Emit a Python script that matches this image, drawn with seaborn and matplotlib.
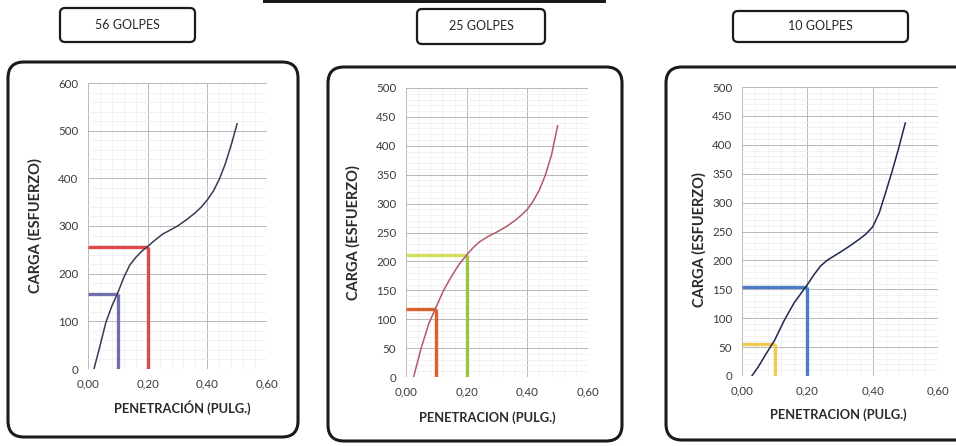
import numpy as np
import pandas as pd
import matplotlib
matplotlib.use('Agg')
import matplotlib.pyplot as plt
from matplotlib.patches import FancyBboxPatch, Rectangle
from matplotlib.ticker import MultipleLocator, FuncFormatter
import seaborn as sns

# Curve readings (penetration in inches, load)
pen_56 = [0.02, 0.04, 0.06, 0.08, 0.10, 0.12, 0.14, 0.16, 0.18, 0.20, 0.22, 0.25,
          0.28, 0.30, 0.33, 0.36, 0.38, 0.40, 0.42, 0.44, 0.46, 0.48, 0.50]
load_56 = [0, 48, 98, 132, 160, 192, 218, 234, 247, 257, 268, 283,
           293, 300, 313, 328, 340, 355, 373, 398, 430, 470, 515]

pen_25 = [0.025, 0.05, 0.075, 0.10, 0.125, 0.15, 0.175, 0.20, 0.22, 0.24, 0.27,
          0.30, 0.33, 0.36, 0.38, 0.40, 0.42, 0.44, 0.46, 0.48, 0.50]
load_25 = [0, 50, 92, 122, 151, 174, 195, 211, 223, 233, 243,
           251, 260, 271, 280, 290, 305, 324, 350, 385, 435]

pen_10 = [0.03, 0.05, 0.07, 0.10, 0.13, 0.16, 0.20, 0.22, 0.24, 0.26, 0.28,
          0.30, 0.33, 0.36, 0.38, 0.40, 0.42, 0.44, 0.46, 0.48, 0.50]
load_10 = [0, 16, 35, 62, 97, 127, 158, 175, 190, 200, 207,
           214, 225, 237, 246, 258, 282, 318, 355, 395, 438]

# Reading levels at 0.1" and 0.2"
guide_pen = [0.1, 0.2]
guide_56 = [157, 256]
guide_25 = [117, 211]
guide_10 = [56, 154]

titles = ['56 GOLPES', '25 GOLPES', '10 GOLPES']
xlabels = ['PENETRACIÓN (PULG.)', 'PENETRACION (PULG.)', 'PENETRACION (PULG.)']
ylabel = 'CARGA (ESFUERZO)'

sns.set_style('white')
plt.rcParams['font.family'] = ['Lato', 'DejaVu Sans']

W, H = 956, 446
fig = plt.figure(figsize=(W / 100, H / 100), dpi=100)
fig.patch.set_facecolor('white')

# overlay in pixel units for boxes and labels
bg = fig.add_axes([0, 0, 1, 1], zorder=0)
bg.set_xlim(0, W)
bg.set_ylim(H, 0)
bg.axis('off')

panels = [
    dict(x=pen_56, y=load_56, g=guide_56, ymax=600, ystep=100, yminor=20,
         ax=(88, 83, 267, 369), curve='#3a3a55',
         gcol=[('#7070b0', '#7070b0'), ('#dc4a4c', '#dc4a4c')],
         outer=(8, 62, 298, 437), lab=(60, 8, 195, 42),
         ylab=(35, 226), xlab=(182, 408)),
    dict(x=pen_25, y=load_25, g=guide_25, ymax=500, ystep=50, yminor=10,
         ax=(406, 88, 588, 377), curve='#b25866',
         gcol=[('#d8642c', '#d8642c'), ('#d4de5c', '#9fc245')],
         outer=(328, 67, 622, 441), lab=(417, 9, 545, 44),
         ylab=(353, 233), xlab=(487, 418)),
    dict(x=pen_10, y=load_10, g=guide_10, ymax=500, ystep=50, yminor=10,
         ax=(742, 87, 938, 376), curve='#1e2850',
         gcol=[('#f2c94e', '#f2c94e'), ('#4a7cc8', '#4a7cc8')],
         outer=(666, 67, 985, 440), lab=(733, 11, 908, 42),
         ylab=(699, 240), xlab=(838, 415)),
]

# dark bar of the cut-off title at the top
bg.add_patch(Rectangle((263, -2), 343, 5, facecolor='#1a1a1a', edgecolor='none'))

for i, p in enumerate(panels):
    x0, y0, x1, y1 = p['outer']
    bg.add_patch(FancyBboxPatch((x0, y0), x1 - x0, y1 - y0,
                                boxstyle='round,pad=0,rounding_size=16',
                                facecolor='white', edgecolor='#1a1a1a', lw=2.2))
    lx0, ly0, lx1, ly1 = p['lab']
    bg.add_patch(FancyBboxPatch((lx0, ly0), lx1 - lx0, ly1 - ly0,
                                boxstyle='round,pad=0,rounding_size=5',
                                facecolor='white', edgecolor='#1a1a1a', lw=1.6))
    bg.text((lx0 + lx1) / 2, (ly0 + ly1) / 2, titles[i], ha='center', va='center',
            fontsize=9, color='#262626')
    bg.text(p['ylab'][0], p['ylab'][1], ylabel, rotation=90, ha='center', va='center',
            fontsize=10.5, fontweight='bold', color='#2a2a2a')
    bg.text(p['xlab'][0], p['xlab'][1], xlabels[i], ha='center', va='center',
            fontsize=9.3, fontweight='bold', color='#2a2a2a')

    ax_l, ax_t, ax_r, ax_b = p['ax']
    ax = fig.add_axes([ax_l / W, 1 - ax_b / H, (ax_r - ax_l) / W, (ax_b - ax_t) / H], zorder=2)
    ax.set_facecolor('white')

    df = pd.DataFrame({'pen': p['x'], 'load': p['y']})
    sns.lineplot(data=df, x='pen', y='load', ax=ax, color=p['curve'], lw=1.1, zorder=4)

    for (gx, gy), (hc, vc) in zip(zip(guide_pen, p['g']), p['gcol']):
        ax.plot([0, gx], [gy, gy], color=hc, lw=2.4, solid_capstyle='butt', zorder=3)
        ax.plot([gx, gx], [0, gy], color=vc, lw=2.4, solid_capstyle='butt', zorder=3)

    ax.set_xlim(0, 0.6)
    ax.set_ylim(0, p['ymax'])
    ax.xaxis.set_major_locator(MultipleLocator(0.2))
    ax.xaxis.set_minor_locator(MultipleLocator(0.04))
    ax.yaxis.set_major_locator(MultipleLocator(p['ystep']))
    ax.yaxis.set_minor_locator(MultipleLocator(p['yminor']))
    ax.xaxis.set_major_formatter(FuncFormatter(lambda v, pos: f'{v:.2f}'.replace('.', ',')))
    ax.grid(which='major', color='#b8b8b8', lw=0.7)
    ax.grid(which='minor', color='#ededed', lw=0.5)
    ax.set_axisbelow(True)
    ax.tick_params(which='both', length=0, labelsize=8.3, labelcolor='#3a3a3a', pad=7)
    for s in ax.spines.values():
        s.set_visible(False)
    ax.set_xlabel('')
    ax.set_ylabel('')

fig.savefig('out.png', dpi=100)
